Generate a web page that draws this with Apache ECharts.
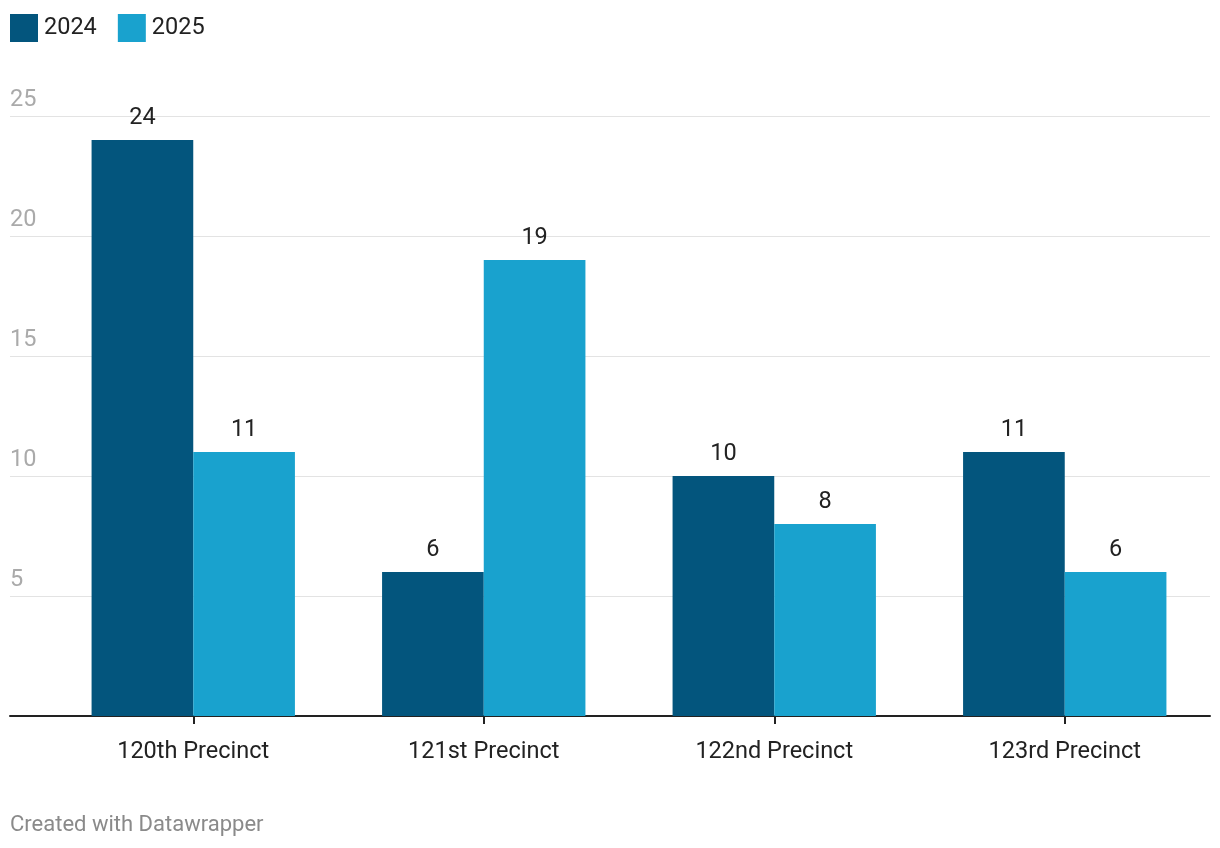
<!DOCTYPE html>
<html><head><meta charset="utf-8">
<script src="https://cdn.jsdelivr.net/npm/echarts@6/dist/echarts.min.js"></script>
<style>html,body{margin:0;padding:0;background:#fff}#c{width:1220px;height:848px}</style>
</head><body><div id="c"></div>
<script>
const categories = ['120th Precinct', '121st Precinct', '122nd Precinct', '123rd Precinct'];
const seriesNames = ['2024', '2025'];
const values2024 = [24, 6, 10, 11];
const values2025 = [11, 19, 8, 6];
const yTicks = [0, 5, 10, 15, 20, 25];

const FONT = 'Roboto';
const chart = echarts.init(document.getElementById('c'));
chart.setOption({
  animation: false,
  textStyle: { fontFamily: FONT },
  legend: {
    left: 10, top: 14, padding: 0, itemWidth: 28, itemHeight: 28, itemGap: 21, icon: 'rect',
    textStyle: { fontSize: 23.5, color: '#222', fontFamily: FONT, padding: [0, 0, 0, 1] },
    data: seriesNames
  },
  grid: [
    { left: 48, right: 10, top: 116, bottom: 132 },
    { left: 10, right: 10, top: 116, bottom: 132 }
  ],
  xAxis: [
    { type: 'category', gridIndex: 0, data: categories,
      axisLine: { show: false },
      axisTick: { show: true, alignWithLabel: true, length: 8, lineStyle: { color: '#222', width: 2 } },
      axisLabel: { fontSize: 23.5, color: '#222', margin: 24, fontFamily: FONT } },
    { type: 'value', gridIndex: 1, min: 0, max: 1, show: true,
      axisLine: { show: true, lineStyle: { color: '#222', width: 2 } },
      axisTick: { show: false }, axisLabel: { show: false }, splitLine: { show: false } }
  ],
  yAxis: [
    { type: 'value', gridIndex: 0, min: yTicks[0], max: yTicks[yTicks.length - 1], interval: 5,
      show: false, splitLine: { show: false } },
    { type: 'value', gridIndex: 1, min: yTicks[0], max: yTicks[yTicks.length - 1], interval: 5,
      axisLine: { show: false }, axisTick: { show: false },
      splitLine: { show: true, lineStyle: { color: '#e3e3e3', width: 1 } },
      axisLabel: { inside: true, margin: 0, showMinLabel: false, verticalAlign: 'bottom',
        align: 'left', fontSize: 23.5, color: '#aaaaaa', fontFamily: FONT, padding: [0, 0, 4, 0],
        formatter: v => (v === 0 ? '' : String(v)) } }
  ],
  series: [
    { name: seriesNames[0], type: 'bar', xAxisIndex: 0, yAxisIndex: 0, data: values2024,
      barGap: '0%', barCategoryGap: '30%', itemStyle: { color: '#03557d' }, z: 3,
      label: { show: true, position: 'top', distance: 10, fontSize: 23.5, color: '#222', fontFamily: FONT } },
    { name: seriesNames[1], type: 'bar', xAxisIndex: 0, yAxisIndex: 0, data: values2025,
      barGap: '0%', barCategoryGap: '30%', itemStyle: { color: '#19a2ce' }, z: 3,
      label: { show: true, position: 'top', distance: 10, fontSize: 23.5, color: '#222', fontFamily: FONT } }
  ],
  graphic: [
    { type: 'text', left: 10, top: 814, style: { text: 'Created with Datawrapper', fontSize: 22, fill: '#8a8a8a', fontFamily: FONT } }
  ]
});
</script></body></html>
